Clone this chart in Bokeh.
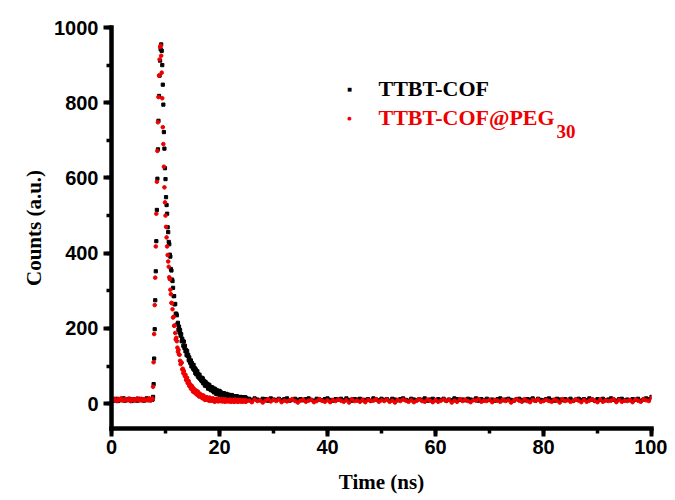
import numpy as np
from bokeh.plotting import figure
from bokeh.models import Range1d, SingleIntervalTicker, Label, ColumnDataSource
from bokeh.embed import file_html
from bokeh.resources import INLINE

# ---- data ----
# time grids: pre-pulse (0.25 ns), main decay (0.1 ns), tail (0.5 ns)
pre_start, pre_step = 0.0, 0.25
main_start, main_step = 7.6, 0.1
tail_start, tail_step = 25.5, 0.5

cof_pre = [9, 12, 8, 11, 13, 7, 10, 12, 9, 14, 8, 11, 10, 13, 9, 7, 12, 10, 11, 8,
           13, 9, 12, 10, 8, 11, 14, 9, 10, 12, 11]
peg_pre = [11, 8, 13, 10, 7, 12, 9, 14, 10, 8, 12, 11, 9, 13, 7, 10, 12, 8, 11, 14,
           9, 10, 13, 8, 12, 9, 11, 10, 14, 8, 12]

cof_main = [
    11, 18, 52, 120, 198, 275, 352, 432, 515, 598,
    676, 752, 818, 872, 912, 942, 955, 938, 900, 848,
    795, 722, 678, 626, 597, 549, 528, 505, 469, 456,
    430, 424, 396, 391, 358, 354, 330, 326, 308, 286,
    286, 264, 265, 239, 239, 235, 211, 215, 197, 205,
    189, 196, 181, 185, 166, 173, 167, 154, 165, 148,
    154, 139, 143, 129, 140, 127, 130, 116, 123, 112,
    108, 115, 99, 108, 103, 93, 103, 90, 95, 82,
    91, 78, 85, 86, 72, 78, 69, 77, 66, 69,
    62, 69, 59, 67, 54, 61, 58, 48, 58, 48,
    54, 46, 52, 40, 47, 50, 39, 45, 36, 44,
    36, 43, 33, 39, 30, 40, 31, 37, 26, 34,
    35, 25, 32, 26, 34, 23, 31, 23, 27, 20,
    27, 19, 28, 20, 17, 25, 18, 26, 16, 21,
    16, 24, 16, 22, 13, 20, 13, 23, 14, 19,
    20, 13, 20, 11, 17, 10, 20, 12, 17, 10,
    12, 17, 10, 18, 9, 15, 16, 9, 17, 10,
    15, 8, 17, 10, 14,
]
peg_main = [
    14, 45, 110, 185, 262, 335, 418, 505, 590, 672,
    748, 815, 872, 915, 948, 952, 925, 880, 812, 735,
    690, 630, 575, 535, 500, 470, 442, 418, 395, 378,
    364, 336, 331, 303, 291, 268, 267, 251, 229, 231,
    207, 208, 188, 171, 175, 166, 149, 138, 143, 131,
    130, 114, 105, 109, 109, 91, 93, 81, 87, 78,
    73, 77, 63, 67, 69, 55, 55, 60, 47, 52,
    51, 40, 45, 47, 37, 32, 41, 33, 36, 28,
    29, 35, 24, 30, 32, 22, 19, 27, 21, 23,
    24, 16, 21, 14, 22, 15, 19, 10, 16, 17,
    11, 17, 11, 15, 8, 14, 16, 8, 12, 8,
    13, 8, 14, 7, 11, 5, 10, 12, 7, 13,
    9, 12, 6, 10, 8, 11, 7, 9, 12, 6,
    10, 7, 9, 12, 5, 8, 11, 7, 9, 6,
    8, 10, 6, 9, 11, 5, 8, 7, 10, 6,
    9, 5, 8, 11, 7, 6, 9, 8, 5, 10,
    7, 9, 6, 8, 10, 5, 7, 9, 6, 8,
    6, 9, 7, 5, 8,
]

cof_tail = [
    13, 10, 14, 11, 9, 13, 12, 8, 14, 11,
    10, 13, 9, 12, 14, 8, 11, 13, 10, 12,
    9, 12, 14, 10, 8, 13, 11, 9, 12, 14,
    10, 8, 12, 11, 13, 9, 14, 10, 8, 12,
    11, 13, 9, 10, 12, 8, 14, 11, 9, 13,
    10, 12, 8, 13, 11, 9, 12, 14, 10, 8,
    13, 11, 9, 12, 10, 14, 8, 11, 13, 9,
    12, 10, 13, 8, 11, 9, 14, 12, 10, 11,
    9, 13, 11, 10, 14, 8, 12, 9, 13, 10,
    11, 8, 12, 14, 9, 11, 13, 10, 8, 12,
    13, 10, 9, 12, 11, 14, 8, 13, 10, 9,
    12, 14, 10, 8, 13, 11, 9, 12, 10, 13,
    8, 11, 13, 10, 12, 9, 14, 11, 8, 12,
    10, 13, 9, 11, 14, 10, 8, 12, 13, 9,
    11, 9, 12, 10, 13, 8, 11, 14, 12, 18,
]
peg_tail = [
    8, 4, 11, 7, 9, 3, 8, 12, 6, 10,
    7, 11, 4, 8, 6, 9, 12, 7, 3, 8,
    11, 5, 8, 10, 4, 7, 12, 8, 5, 9,
    4, 10, 7, 11, 8, 5, 9, 3, 12, 7,
    8, 5, 11, 4, 10, 7, 8, 12, 5, 9,
    7, 11, 5, 8, 3, 10, 7, 11, 8, 5,
    9, 4, 8, 12, 7, 5, 11, 8, 4, 10,
    5, 8, 11, 7, 10, 3, 8, 5, 12, 7,
    11, 7, 4, 9, 8, 12, 5, 8, 7, 10,
    4, 10, 8, 5, 11, 7, 9, 3, 8, 12,
    8, 5, 12, 7, 4, 10, 8, 11, 5, 7,
    10, 7, 5, 11, 8, 3, 12, 7, 9, 5,
    7, 11, 8, 4, 10, 5, 8, 12, 7, 4,
    11, 5, 9, 7, 8, 12, 4, 10, 5, 8,
    7, 10, 4, 11, 8, 5, 12, 9, 7, 15,
]

x_ticks_interval = 20
y_ticks_interval = 200
series_names = ["TTBT-COF", "TTBT-COF@PEG"]
subscript = "30"
cof_color = "black"
peg_color = "#ee0000"


def grid(start, step, n):
    return np.round(start + step * np.arange(n), 3)


def build(pre, main, tail):
    t = np.concatenate([grid(pre_start, pre_step, len(pre)),
                        grid(main_start, main_step, len(main)),
                        grid(tail_start, tail_step, len(tail))])
    c = np.array(pre + main + tail, dtype=float)
    return ColumnDataSource(dict(t=t, c=c))


src_cof = build(cof_pre, cof_main, cof_tail)
src_peg = build(peg_pre, peg_main, peg_tail)

# ---- figure ----
p = figure(width=667, height=500, output_backend="svg", toolbar_location=None,
           x_range=Range1d(0, 100), y_range=Range1d(-66, 1000),
           min_border_left=111, min_border_right=16, min_border_top=27,
           min_border_bottom=72)
p.outline_line_color = None
p.xgrid.grid_line_color = None
p.ygrid.grid_line_color = None
p.background_fill_color = "white"
p.border_fill_color = "white"

p.scatter("t", "c", source=src_cof, marker="square", size=3.2,
          fill_color=cof_color, line_color=cof_color)
p.scatter("t", "c", source=src_peg, marker="circle", size=3.6,
          fill_color=peg_color, line_color=peg_color)

p.xaxis.ticker = SingleIntervalTicker(interval=x_ticks_interval, num_minor_ticks=2)
p.yaxis.ticker = SingleIntervalTicker(interval=y_ticks_interval, num_minor_ticks=2)

for axes in (p.xaxis, p.yaxis):
    axes.axis_line_width = 4.5
    axes.axis_line_color = "black"
    axes.axis_line_cap = "square"
    axes.major_tick_line_width = 4
    axes.major_tick_line_color = "black"
    axes.minor_tick_line_width = 3.5
    axes.minor_tick_line_color = "black"
    axes.major_tick_out = 8
    axes.major_tick_in = 0
    axes.minor_tick_out = 5
    axes.minor_tick_in = 0
    axes.major_label_text_font = "Liberation Sans"
    axes.major_label_text_font_style = "bold"
    axes.major_label_text_font_size = "20px"
    axes.major_label_text_color = "black"
    axes.axis_label_text_font = "Liberation Serif"
    axes.axis_label_text_font_style = "bold"
    axes.axis_label_text_font_size = "21px"
    axes.axis_label_text_color = "black"

p.xaxis.axis_label = "Time (ns)"
p.yaxis.axis_label = "Counts (a.u.)"
p.xaxis.major_label_standoff = 3
p.xaxis.axis_label_standoff = 13
p.yaxis.major_label_standoff = 5
p.yaxis.axis_label_standoff = 5

# ---- legend (screen-positioned annotations) ----
legend_font = dict(text_font="Liberation Serif", text_font_style="bold",
                   text_font_size="22px", text_baseline="middle")
p.add_layout(Label(x=238, y=340, x_units="screen", y_units="screen", text="■",
                   text_font="DejaVu Sans", text_font_size="5px",
                   text_color=cof_color, text_align="center", text_baseline="middle"))
p.add_layout(Label(x=238, y=311, x_units="screen", y_units="screen", text="●",
                   text_font="DejaVu Sans", text_font_size="5px",
                   text_color=peg_color, text_align="center", text_baseline="middle"))
p.add_layout(Label(x=267, y=340, x_units="screen", y_units="screen",
                   text=series_names[0], text_color=cof_color, **legend_font))
p.add_layout(Label(x=267, y=311, x_units="screen", y_units="screen",
                   text=series_names[1], text_color=peg_color, **legend_font))
p.add_layout(Label(x=445, y=297, x_units="screen", y_units="screen", text=subscript,
                   text_font="Liberation Serif", text_font_style="bold",
                   text_font_size="19px", text_color=peg_color,
                   text_baseline="alphabetic"))

open("out.html", "w").write(file_html(p, INLINE))
